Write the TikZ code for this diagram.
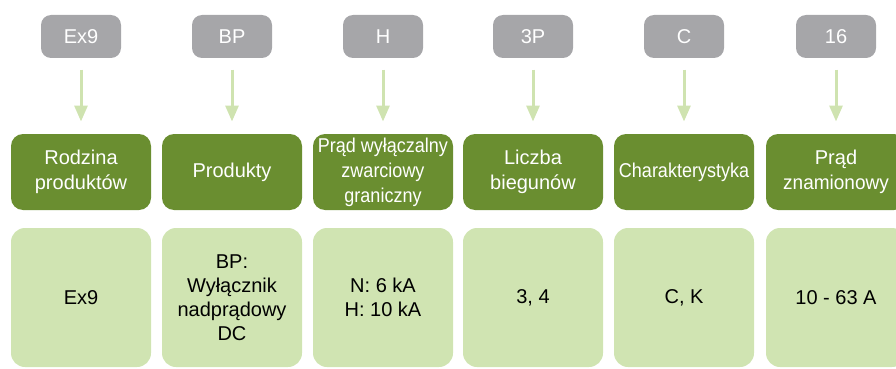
\documentclass[tikz,border=0pt]{standalone}
\usepackage{fontspec}
\setmainfont{Liberation Sans}
\usepackage{tikz}
\usetikzlibrary{arrows.meta,positioning}
\definecolor{codegrey}{RGB}{166,166,169}
\definecolor{namegreen}{RGB}{106,142,48}
\definecolor{valuegreen}{RGB}{208,228,178}
\definecolor{arrowgreen}{RGB}{207,227,176}
\begin{document}
\begin{tikzpicture}[x=1pt,y=-1pt,line width=3pt,
code node/.style={rectangle,rounded corners=10pt,fill=codegrey,text=white,minimum width=80pt,minimum height=43pt,inner sep=0pt,font=\fontsize{20}{24}\selectfont},
name node/.style={rectangle,rounded corners=12pt,fill=namegreen,text=white,minimum width=140pt,minimum height=76pt,inner sep=0pt,align=center,font=\fontsize{20}{25}\selectfont},
value node/.style={rectangle,rounded corners=14pt,fill=valuegreen,text=black,minimum width=140pt,minimum height=139pt,inner sep=0pt,align=center,font=\fontsize{20}{24}\selectfont}]
\useasboundingbox (0,0) rectangle (896,369);
\begin{scope}
\node[code node] (c1) at (81,36.5) {Ex9};
\node[code node] (c2) at (232,36.5) {BP};
\node[code node] (c3) at (383,36.5) {H};
\node[code node] (c4) at (533,36.5) {3P};
\node[code node] (c5) at (684,36.5) {C};
\node[code node] (c6) at (836,36.5) {16};
\node[name node] (n1) at (81,172) {Rodzina\\produktów};
\node[name node] (n2) at (232,172) {Produkty};
\node[name node] (n3) at (383,172) {\scalebox{0.9}[1]{Prąd wyłączalny}\\\scalebox{0.9}[1]{zwarciowy}\\\scalebox{0.9}[1]{graniczny}};
\node[name node] (n4) at (533,172) {Liczba\\biegunów};
\node[name node] (n5) at (684,172) {\scalebox{0.9}[1]{Charakterystyka}};
\node[name node] (n6) at (836,172) {Prąd\\\scalebox{0.95}[1]{znamionowy}};
\node[value node] (v1) at (81,297.5) {Ex9};
\node[value node] (v2) at (232,297.5) {BP:\\Wyłącznik\\nadprądowy\\DC};
\node[value node] (v3) at (383,297.5) {N: 6 kA\\H: 10 kA};
\node[value node] (v4) at (533,297.5) {3, 4};
\node[value node] (v5) at (684,297.5) {C, K};
\node[value node] (v6) at (836,297.5) {10 - 63 A};
\end{scope}
\begin{scope}[every edge/.style={draw=arrowgreen,line width=3pt,-{Triangle[width=13pt,length=16pt]},shorten <=10pt,shorten >=11pt}]
\draw (c1) edge (n1);
\draw (c2) edge (n2);
\draw (c3) edge (n3);
\draw (c4) edge (n4);
\draw (c5) edge (n5);
\draw (c6) edge (n6);
\end{scope}
\end{tikzpicture}
\end{document}
